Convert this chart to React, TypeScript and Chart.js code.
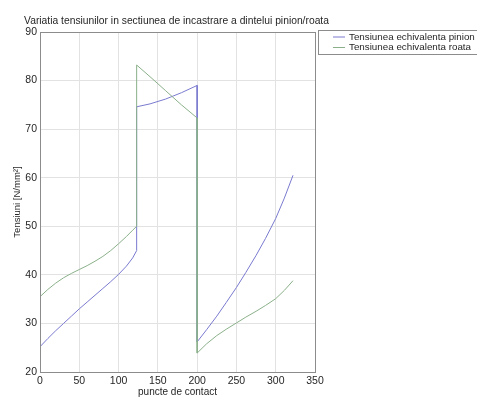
import React, { useEffect, useRef } from "react";
import { Chart, registerables } from "chart.js";

Chart.register(...registerables);

const TITLE = "Variatia tensiunilor in sectiunea de incastrare a dintelui pinion/roata";
const X_TITLE = "puncte de contact";
const Y_TITLE = "Tensiuni [N/mm²]";
const LEGEND_LABELS = ["Tensiunea echivalenta pinion", "Tensiunea echivalenta roata"];

// contact points (jumps appear as repeated x values)
const contactX = [
  0, 10, 20, 30, 40, 50, 60, 70, 80, 90, 100, 110, 118, 123,
  123, 140, 160, 180, 200,
  200, 212, 225, 237, 250, 262, 275, 287, 300, 311, 322,
];
const pinionY = [
  25.2, 26.9, 28.5, 30.0, 31.5, 33.0, 34.4, 35.8, 37.2, 38.6, 40.1, 41.8, 43.5, 45.0,
  74.6, 75.2, 76.2, 77.5, 79.0,
  26.2, 28.7, 31.5, 34.3, 37.4, 40.5, 44.0, 47.5, 51.6, 55.8, 60.5,
];
const roataY = [
  35.5, 37.0, 38.3, 39.4, 40.3, 41.1, 41.9, 42.8, 43.8, 45.0, 46.4, 47.9, 49.2, 50.0,
  83.2, 80.8, 77.9, 75.0, 72.3,
  23.9, 25.8, 27.5, 28.8, 30.1, 31.3, 32.5, 33.7, 35.1, 36.8, 38.8,
];

const X_MIN = 0, X_MAX = 350, X_STEP = 50;
const Y_MIN = 20, Y_MAX = 90, Y_STEP = 10;

const PINION_COLOR = "rgb(122,122,208)";
const ROATA_COLOR = "rgb(138,176,138)";
const FONT = "'Liberation Sans', Arial, sans-serif";
const TEXT_COLOR = "#262626";

const decorPlugin = {
  id: "decor",
  afterDraw(chart: any) {
    const { ctx, chartArea } = chart;
    ctx.save();
    // plot box
    ctx.strokeStyle = "#8c8c8c";
    ctx.lineWidth = 1;
    ctx.strokeRect(
      Math.round(chartArea.left) + 0.5,
      Math.round(chartArea.top) + 0.5,
      Math.round(chartArea.right - chartArea.left),
      Math.round(chartArea.bottom - chartArea.top)
    );
    // title
    ctx.fillStyle = TEXT_COLOR;
    ctx.font = `10.3px ${FONT}`;
    ctx.textAlign = "center";
    ctx.textBaseline = "middle";
    ctx.fillText(TITLE, (chartArea.left + chartArea.right) / 2 - 1, 21);
    // legend
    const lx = 318, ly = 30, lw = 170, lh = 24;
    ctx.fillStyle = "#ffffff";
    ctx.fillRect(lx, ly, lw, lh);
    ctx.strokeStyle = "#8c8c8c";
    ctx.strokeRect(lx + 0.5, ly + 0.5, lw, lh);
    const colors = [PINION_COLOR, ROATA_COLOR];
    ctx.font = `9.8px ${FONT}`;
    ctx.textAlign = "left";
    LEGEND_LABELS.forEach((lab, i) => {
      const y = ly + 6.5 + i * 10.5;
      ctx.strokeStyle = colors[i];
      ctx.beginPath();
      ctx.moveTo(333, y + 0.5);
      ctx.lineTo(345, y + 0.5);
      ctx.stroke();
      ctx.fillStyle = TEXT_COLOR;
      ctx.fillText(lab, 349, y + 0.5);
    });
    ctx.restore();
  },
};

export default function App() {
  const ref = useRef<HTMLCanvasElement | null>(null);
  useEffect(() => {
    if (!ref.current) return;
    const toPts = (ys: number[]) => contactX.map((x, i) => ({ x, y: ys[i] }));
    const chart = new Chart(ref.current, {
      type: "line",
      data: {
        datasets: [
          {
            label: LEGEND_LABELS[0],
            data: toPts(pinionY),
            borderColor: PINION_COLOR,
            borderWidth: 1,
            pointRadius: 0,
            tension: 0,
            order: 1,
          },
          {
            label: LEGEND_LABELS[1],
            data: toPts(roataY),
            borderColor: ROATA_COLOR,
            borderWidth: 1,
            pointRadius: 0,
            tension: 0,
            order: 0,
          },
        ],
      },
      plugins: [decorPlugin],
      options: {
        animation: false,
        responsive: false,
        layout: { padding: { left: 0, right: 162, top: 32, bottom: 0 } },
        plugins: { legend: { display: false }, tooltip: { enabled: false }, title: { display: false } },
        scales: {
          x: {
            type: "linear",
            min: X_MIN,
            max: X_MAX,
            afterFit: (s: any) => { s.height = 25; },
            ticks: {
              stepSize: X_STEP,
              padding: 3,
              color: TEXT_COLOR,
              font: { family: FONT, size: 10.5 },
              maxRotation: 0,
            },
            grid: { color: "#e2e2e2", drawTicks: false },
            border: { color: "#8c8c8c" },
            title: {
              display: true,
              text: X_TITLE,
              color: TEXT_COLOR,
              font: { family: FONT, size: 10, lineHeight: 1 },
              padding: { top: 0, bottom: 0 },
            },
          },
          y: {
            type: "linear",
            min: Y_MIN,
            max: Y_MAX,
            afterFit: (s: any) => { s.width = 40; },
            ticks: {
              stepSize: Y_STEP,
              padding: 3,
              color: TEXT_COLOR,
              font: { family: FONT, size: 10.5 },
            },
            grid: { color: "#e2e2e2", drawTicks: false },
            border: { color: "#8c8c8c" },
            title: {
              display: true,
              text: Y_TITLE,
              color: TEXT_COLOR,
              font: { family: FONT, size: 9.5, lineHeight: 1 },
              padding: { top: 13, bottom: 0 },
            },
          },
        },
      },
    });
    return () => chart.destroy();
  }, []);
  return (
    <div style={{ position: "fixed", left: 0, top: 0, width: 477, height: 397, background: "#fff", overflow: "hidden" }}>
      <canvas ref={ref} width={477} height={397} style={{ display: "block" }} />
    </div>
  );
}
